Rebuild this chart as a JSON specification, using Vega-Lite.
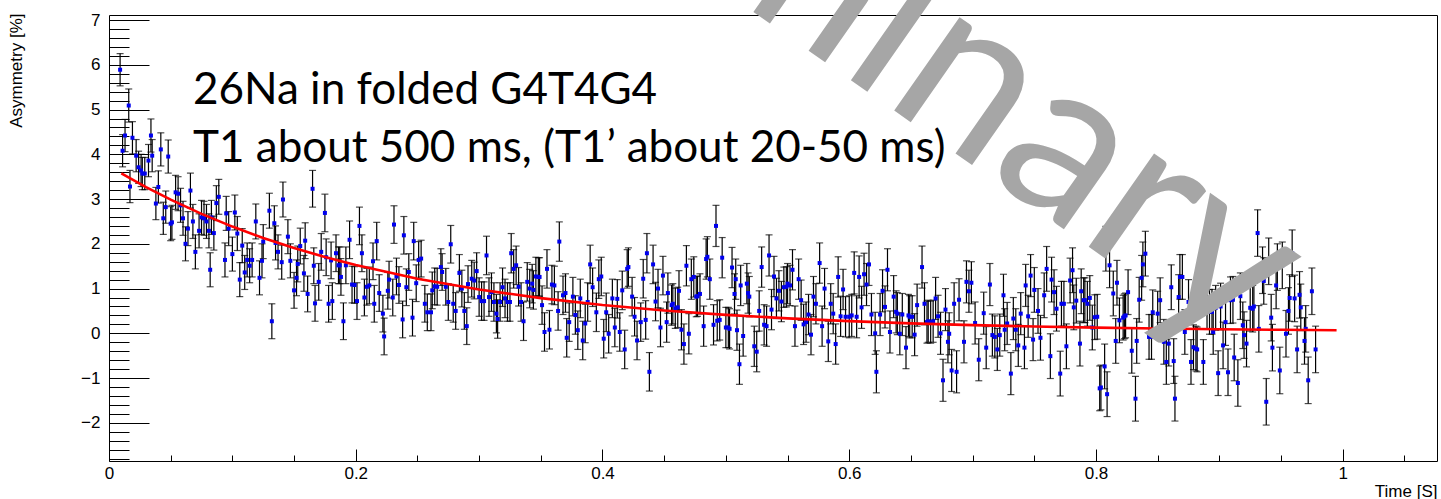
{
"$schema": "https://vega.github.io/schema/vega-lite/v6.json",
"width": 1328, "height": 446,
"autosize": {"type": "none"},
"padding": {"left": 109, "top": 15, "right": 4, "bottom": 38},
"background": "white",
"config": {"view": {"stroke": "#000", "strokeWidth": 1}},
"datasets": {
"fit": [
{"x":0.01,"y":3.575},{"x":0.03,"y":3.267},{"x":0.05,"y":2.986},{"x":0.075,"y":2.668},{"x":0.1,"y":2.385},{"x":0.125,"y":2.132},{"x":0.15,"y":1.906},{"x":0.175,"y":1.704},{"x":0.2,"y":1.525},{"x":0.25,"y":1.221},{"x":0.3,"y":0.979},{"x":0.35,"y":0.786},{"x":0.4,"y":0.632},{"x":0.45,"y":0.51},{"x":0.5,"y":0.412},{"x":0.55,"y":0.335},{"x":0.6,"y":0.273},{"x":0.65,"y":0.223},{"x":0.7,"y":0.184},{"x":0.75,"y":0.153},{"x":0.8,"y":0.128},{"x":0.85,"y":0.108},{"x":0.9,"y":0.092},{"x":0.95,"y":0.079},{"x":0.995,"y":0.07}
],
"notes": [
{"label":"26Na in folded G4T4G4","kind":"line1"},
{"label":"T1 about 500 ms, (T1\u2019 about 20-50 ms)","kind":"line2"},
{"label":"Preliminary","kind":"mark"}
],
"pts": [
{"x":0.009,"y":5.89,"e":0.36},{"x":0.011,"y":4.08,"e":0.36},{"x":0.013,"y":4.42,"e":0.36},{"x":0.016,"y":5.09,"e":0.37},{"x":0.017,"y":3.28,"e":0.36},{"x":0.019,"y":4.37,"e":0.36},{"x":0.022,"y":3.97,"e":0.36},{"x":0.024,"y":3.71,"e":0.36},{"x":0.026,"y":3.64,"e":0.36},{"x":0.027,"y":3.57,"e":0.36},{"x":0.029,"y":3.57,"e":0.36},{"x":0.032,"y":3.86,"e":0.36},{"x":0.034,"y":4.42,"e":0.37},{"x":0.035,"y":3.97,"e":0.36},{"x":0.038,"y":2.9,"e":0.36},{"x":0.04,"y":3.27,"e":0.36},{"x":0.042,"y":4.11,"e":0.37},{"x":0.044,"y":2.57,"e":0.36},{"x":0.046,"y":2.82,"e":0.36},{"x":0.048,"y":3.95,"e":0.37},{"x":0.05,"y":2.45,"e":0.38},{"x":0.051,"y":2.48,"e":0.38},{"x":0.054,"y":3.15,"e":0.38},{"x":0.056,"y":3.12,"e":0.38},{"x":0.058,"y":2.86,"e":0.38},{"x":0.06,"y":2.57,"e":0.38},{"x":0.062,"y":2.0,"e":0.38},{"x":0.064,"y":2.34,"e":0.38},{"x":0.066,"y":3.19,"e":0.39},{"x":0.068,"y":2.5,"e":0.38},{"x":0.07,"y":1.82,"e":0.38},{"x":0.073,"y":2.29,"e":0.38},{"x":0.075,"y":2.59,"e":0.38},{"x":0.077,"y":2.57,"e":0.38},{"x":0.079,"y":2.5,"e":0.38},{"x":0.081,"y":2.29,"e":0.38},{"x":0.082,"y":1.42,"e":0.38},{"x":0.083,"y":2.59,"e":0.38},{"x":0.085,"y":2.24,"e":0.38},{"x":0.087,"y":2.91,"e":0.39},{"x":0.089,"y":3.05,"e":0.39},{"x":0.094,"y":1.64,"e":0.38},{"x":0.095,"y":2.68,"e":0.38},{"x":0.097,"y":2.34,"e":0.38},{"x":0.1,"y":1.77,"e":0.38},{"x":0.102,"y":2.7,"e":0.39},{"x":0.104,"y":2.23,"e":0.38},{"x":0.106,"y":1.2,"e":0.38},{"x":0.108,"y":1.96,"e":0.38},{"x":0.11,"y":1.36,"e":0.38},{"x":0.112,"y":1.64,"e":0.38},{"x":0.114,"y":1.51,"e":0.38},{"x":0.116,"y":1.64,"e":0.38},{"x":0.119,"y":2.5,"e":0.39},{"x":0.122,"y":1.24,"e":0.38},{"x":0.124,"y":1.62,"e":0.38},{"x":0.125,"y":2.05,"e":0.38},{"x":0.13,"y":2.74,"e":0.39},{"x":0.132,"y":0.27,"e":0.39},{"x":0.134,"y":2.46,"e":0.39},{"x":0.135,"y":2.02,"e":0.38},{"x":0.137,"y":1.82,"e":0.38},{"x":0.14,"y":1.59,"e":0.38},{"x":0.141,"y":2.99,"e":0.39},{"x":0.145,"y":2.16,"e":0.38},{"x":0.147,"y":1.62,"e":0.38},{"x":0.15,"y":0.96,"e":0.4},{"x":0.152,"y":1.24,"e":0.4},{"x":0.153,"y":1.55,"e":0.4},{"x":0.155,"y":1.95,"e":0.4},{"x":0.158,"y":1.34,"e":0.4},{"x":0.159,"y":2.07,"e":0.4},{"x":0.161,"y":0.88,"e":0.4},{"x":0.165,"y":3.23,"e":0.41},{"x":0.166,"y":1.51,"e":0.4},{"x":0.167,"y":0.67,"e":0.4},
{"x":0.17,"y":1.15,"e":0.41},{"x":0.172,"y":1.82,"e":0.41},{"x":0.175,"y":2.69,"e":0.42},{"x":0.176,"y":1.7,"e":0.41},{"x":0.178,"y":0.66,"e":0.41},{"x":0.18,"y":1.63,"e":0.41},{"x":0.181,"y":0.72,"e":0.41},{"x":0.184,"y":1.79,"e":0.41},{"x":0.186,"y":1.52,"e":0.41},{"x":0.187,"y":1.52,"e":0.41},{"x":0.188,"y":1.26,"e":0.41},{"x":0.19,"y":0.27,"e":0.41},{"x":0.192,"y":1.52,"e":0.41},{"x":0.195,"y":2.09,"e":0.42},{"x":0.197,"y":1.09,"e":0.41},{"x":0.199,"y":1.08,"e":0.41},{"x":0.201,"y":0.72,"e":0.41},{"x":0.203,"y":2.4,"e":0.42},{"x":0.205,"y":1.79,"e":0.41},{"x":0.207,"y":0.8,"e":0.41},{"x":0.209,"y":1.04,"e":0.41},{"x":0.211,"y":1.07,"e":0.41},{"x":0.214,"y":1.61,"e":0.41},{"x":0.215,"y":0.66,"e":0.41},{"x":0.217,"y":2.06,"e":0.42},{"x":0.219,"y":0.9,"e":0.41},{"x":0.222,"y":0.44,"e":0.41},{"x":0.223,"y":-0.07,"e":0.41},{"x":0.226,"y":0.95,"e":0.41},{"x":0.227,"y":1.2,"e":0.41},{"x":0.23,"y":0.8,"e":0.41},{"x":0.231,"y":2.43,"e":0.42},{"x":0.233,"y":1.27,"e":0.41},{"x":0.235,"y":1.08,"e":0.41},{"x":0.238,"y":0.31,"e":0.41},{"x":0.239,"y":2.19,"e":0.42},{"x":0.241,"y":1.03,"e":0.41},{"x":0.243,"y":1.37,"e":0.41},{"x":0.246,"y":0.35,"e":0.41},{"x":0.247,"y":2.06,"e":0.42},{"x":0.249,"y":1.12,"e":0.41},{"x":0.251,"y":1.64,"e":0.41},{"x":0.253,"y":1.67,"e":0.41},{"x":0.256,"y":0.66,"e":0.41},{"x":0.258,"y":0.47,"e":0.41},{"x":0.261,"y":0.47,"e":0.41},{"x":0.262,"y":0.96,"e":0.41},{"x":0.264,"y":1.05,"e":0.41},{"x":0.266,"y":1.04,"e":0.41},{"x":0.269,"y":1.48,"e":0.41},{"x":0.27,"y":1.37,"e":0.41},{"x":0.273,"y":1.04,"e":0.41},{"x":0.275,"y":0.7,"e":0.41},{"x":0.277,"y":1.99,"e":0.42},{"x":0.279,"y":0.66,"e":0.41},{"x":0.281,"y":0.5,"e":0.41},{"x":0.284,"y":1.35,"e":0.41},{"x":0.286,"y":1.0,"e":0.41},{"x":0.288,"y":0.5,"e":0.41},{"x":0.29,"y":0.16,"e":0.41},{"x":0.291,"y":1.1,"e":0.41},{"x":0.294,"y":1.22,"e":0.41},{"x":0.296,"y":1.18,"e":0.41},{"x":0.298,"y":1.39,"e":0.41},{"x":0.3,"y":0.81,"e":0.43},{"x":0.302,"y":0.72,"e":0.43},{"x":0.304,"y":0.72,"e":0.43},{"x":0.306,"y":1.74,"e":0.43},{"x":0.308,"y":0.81,"e":0.43},{"x":0.31,"y":0.92,"e":0.43},{"x":0.312,"y":0.7,"e":0.43},{"x":0.314,"y":0.44,"e":0.43},{"x":0.315,"y":0.32,"e":0.43},{"x":0.317,"y":0.7,"e":0.43},{"x":0.319,"y":1.03,"e":0.43},{"x":0.321,"y":0.78,"e":0.43},{"x":0.323,"y":0.7,"e":0.43},{"x":0.325,"y":0.7,"e":0.43},{"x":0.326,"y":1.79,"e":0.44},{"x":0.328,"y":1.44,"e":0.43},{"x":0.33,"y":1.52,"e":0.43},{"x":0.332,"y":1.04,"e":0.43},{"x":0.334,"y":0.7,"e":0.43},{"x":0.336,"y":0.27,"e":0.43},
{"x":0.339,"y":1.15,"e":0.43},{"x":0.341,"y":1.0,"e":0.43},{"x":0.343,"y":1.11,"e":0.43},{"x":0.344,"y":0.97,"e":0.43},{"x":0.346,"y":1.27,"e":0.43},{"x":0.348,"y":1.26,"e":0.43},{"x":0.349,"y":1.26,"e":0.43},{"x":0.351,"y":0.63,"e":0.43},{"x":0.353,"y":0.03,"e":0.43},{"x":0.355,"y":1.44,"e":0.43},{"x":0.357,"y":0.08,"e":0.43},{"x":0.359,"y":1.09,"e":0.43},{"x":0.361,"y":1.07,"e":0.43},{"x":0.364,"y":0.5,"e":0.43},{"x":0.365,"y":2.05,"e":0.44},{"x":0.368,"y":0.85,"e":0.43},{"x":0.37,"y":0.9,"e":0.43},{"x":0.371,"y":-0.1,"e":0.43},{"x":0.373,"y":0.25,"e":0.43},{"x":0.376,"y":0.82,"e":0.43},{"x":0.378,"y":0.41,"e":0.43},{"x":0.38,"y":0.07,"e":0.43},{"x":0.382,"y":0.78,"e":0.43},{"x":0.384,"y":-0.16,"e":0.43},{"x":0.386,"y":0.22,"e":0.43},{"x":0.388,"y":0.7,"e":0.43},{"x":0.39,"y":1.54,"e":0.43},{"x":0.392,"y":1.03,"e":0.43},{"x":0.395,"y":0.47,"e":0.43},{"x":0.397,"y":1.21,"e":0.43},{"x":0.399,"y":1.27,"e":0.43},{"x":0.401,"y":-0.12,"e":0.43},{"x":0.403,"y":0.47,"e":0.43},{"x":0.405,"y":-0.01,"e":0.43},{"x":0.408,"y":0.78,"e":0.43},{"x":0.41,"y":0.13,"e":0.43},{"x":0.412,"y":0.77,"e":0.43},{"x":0.414,"y":0.03,"e":0.43},{"x":0.416,"y":0.96,"e":0.43},{"x":0.418,"y":-0.36,"e":0.43},{"x":0.42,"y":1.44,"e":0.43},{"x":0.421,"y":1.48,"e":0.43},{"x":0.424,"y":0.82,"e":0.43},{"x":0.426,"y":0.37,"e":0.43},{"x":0.428,"y":-0.16,"e":0.43},{"x":0.431,"y":0.25,"e":0.43},{"x":0.433,"y":1.22,"e":0.43},{"x":0.435,"y":0.3,"e":0.43},{"x":0.436,"y":1.79,"e":0.44},{"x":0.438,"y":-0.86,"e":0.43},{"x":0.441,"y":1.54,"e":0.43},{"x":0.443,"y":0.71,"e":0.43},{"x":0.445,"y":1.0,"e":0.43},{"x":0.447,"y":0.13,"e":0.43},{"x":0.449,"y":1.29,"e":0.43},{"x":0.452,"y":0.25,"e":0.45},{"x":0.453,"y":0.9,"e":0.45},{"x":0.456,"y":0.63,"e":0.45},{"x":0.457,"y":0.66,"e":0.45},{"x":0.459,"y":0.56,"e":0.45},{"x":0.461,"y":0.58,"e":0.45},{"x":0.462,"y":0.95,"e":0.45},{"x":0.464,"y":0.08,"e":0.45},{"x":0.466,"y":-0.24,"e":0.45},{"x":0.468,"y":1.51,"e":0.45},{"x":0.47,"y":-0.01,"e":0.45},{"x":0.472,"y":1.21,"e":0.45},{"x":0.474,"y":1.26,"e":0.45},{"x":0.476,"y":0.82,"e":0.45},{"x":0.477,"y":0.83,"e":0.45},{"x":0.479,"y":0.88,"e":0.45},{"x":0.482,"y":0.16,"e":0.45},{"x":0.484,"y":1.66,"e":0.45},{"x":0.485,"y":1.71,"e":0.45},{"x":0.487,"y":1.21,"e":0.45},{"x":0.49,"y":0.19,"e":0.45},{"x":0.492,"y":2.4,"e":0.46},{"x":0.493,"y":0.28,"e":0.45},{"x":0.495,"y":0.3,"e":0.45},{"x":0.497,"y":1.69,"e":0.45},{"x":0.5,"y":0.13,"e":0.45},{"x":0.502,"y":0.13,"e":0.45},{"x":0.503,"y":0.1,"e":0.45},{"x":0.505,"y":1.47,"e":0.45},{"x":0.507,"y":0.88,"e":0.45},{"x":0.508,"y":1.21,"e":0.45},
{"x":0.509,"y":0.07,"e":0.45},{"x":0.511,"y":-0.69,"e":0.45},{"x":0.512,"y":1.07,"e":0.45},{"x":0.514,"y":-0.06,"e":0.45},{"x":0.517,"y":1.11,"e":0.45},{"x":0.518,"y":0.9,"e":0.45},{"x":0.519,"y":0.82,"e":0.45},{"x":0.523,"y":-0.29,"e":0.45},{"x":0.525,"y":-0.41,"e":0.45},{"x":0.527,"y":0.5,"e":0.45},{"x":0.529,"y":1.48,"e":0.45},{"x":0.531,"y":0.19,"e":0.45},{"x":0.533,"y":0.16,"e":0.45},{"x":0.535,"y":1.74,"e":0.46},{"x":0.537,"y":0.53,"e":0.45},{"x":0.539,"y":1.27,"e":0.45},{"x":0.541,"y":0.78,"e":0.45},{"x":0.543,"y":0.95,"e":0.45},{"x":0.545,"y":0.71,"e":0.45},{"x":0.547,"y":1.03,"e":0.45},{"x":0.549,"y":1.04,"e":0.45},{"x":0.55,"y":1.11,"e":0.45},{"x":0.552,"y":1.07,"e":0.45},{"x":0.554,"y":1.42,"e":0.45},{"x":0.556,"y":0.16,"e":0.45},{"x":0.559,"y":1.21,"e":0.45},{"x":0.561,"y":0.74,"e":0.45},{"x":0.563,"y":0.2,"e":0.45},{"x":0.565,"y":0.25,"e":0.45},{"x":0.567,"y":0.42,"e":0.45},{"x":0.569,"y":-0.03,"e":0.45},{"x":0.571,"y":0.82,"e":0.45},{"x":0.573,"y":0.66,"e":0.45},{"x":0.576,"y":1.57,"e":0.45},{"x":0.578,"y":0.16,"e":0.45},{"x":0.58,"y":1.0,"e":0.45},{"x":0.583,"y":-0.18,"e":0.45},{"x":0.585,"y":0.66,"e":0.45},{"x":0.587,"y":0.44,"e":0.45},{"x":0.589,"y":-0.24,"e":0.45},{"x":0.591,"y":1.26,"e":0.45},{"x":0.593,"y":0.38,"e":0.45},{"x":0.595,"y":0.98,"e":0.45},{"x":0.597,"y":0.37,"e":0.45},{"x":0.6,"y":0.37,"e":0.47},{"x":0.602,"y":0.4,"e":0.47},{"x":0.604,"y":1.35,"e":0.47},{"x":0.606,"y":0.37,"e":0.47},{"x":0.608,"y":1.26,"e":0.47},{"x":0.61,"y":0.58,"e":0.47},{"x":0.612,"y":1.32,"e":0.47},{"x":0.614,"y":1.09,"e":0.47},{"x":0.616,"y":1.54,"e":0.47},{"x":0.618,"y":0.42,"e":0.47},{"x":0.621,"y":0.0,"e":0.47},{"x":0.622,"y":-0.86,"e":0.47},{"x":0.625,"y":0.42,"e":0.47},{"x":0.627,"y":0.95,"e":0.47},{"x":0.629,"y":0.59,"e":0.47},{"x":0.631,"y":1.42,"e":0.47},{"x":0.633,"y":0.03,"e":0.47},{"x":0.636,"y":0.82,"e":0.47},{"x":0.638,"y":0.48,"e":0.47},{"x":0.639,"y":0.44,"e":0.47},{"x":0.641,"y":-0.01,"e":0.47},{"x":0.643,"y":0.42,"e":0.47},{"x":0.646,"y":-0.32,"e":0.47},{"x":0.648,"y":0.4,"e":0.47},{"x":0.649,"y":0.37,"e":0.47},{"x":0.651,"y":0.37,"e":0.47},{"x":0.653,"y":-0.03,"e":0.47},{"x":0.655,"y":0.63,"e":0.47},{"x":0.659,"y":1.48,"e":0.47},{"x":0.661,"y":0.66,"e":0.47},{"x":0.663,"y":0.25,"e":0.47},{"x":0.664,"y":0.27,"e":0.47},{"x":0.666,"y":0.25,"e":0.47},{"x":0.668,"y":0.27,"e":0.47},{"x":0.67,"y":0.78,"e":0.47},{"x":0.672,"y":0.38,"e":0.47},{"x":0.674,"y":0.0,"e":0.47},{"x":0.676,"y":-1.05,"e":0.47},{"x":0.678,"y":0.53,"e":0.47},
{"x":0.68,"y":-0.19,"e":0.47},{"x":0.681,"y":-0.01,"e":0.47},{"x":0.683,"y":-0.83,"e":0.47},{"x":0.685,"y":0.66,"e":0.47},{"x":0.687,"y":-0.86,"e":0.47},{"x":0.689,"y":0.75,"e":0.47},{"x":0.693,"y":-0.19,"e":0.47},{"x":0.695,"y":1.15,"e":0.47},{"x":0.697,"y":0.94,"e":0.47},{"x":0.699,"y":1.13,"e":0.47},{"x":0.702,"y":0.23,"e":0.47},{"x":0.705,"y":-0.59,"e":0.47},{"x":0.709,"y":0.45,"e":0.47},{"x":0.711,"y":-0.32,"e":0.47},{"x":0.714,"y":1.09,"e":0.47},{"x":0.716,"y":-0.04,"e":0.47},{"x":0.718,"y":-0.08,"e":0.47},{"x":0.72,"y":-0.36,"e":0.47},{"x":0.722,"y":-0.04,"e":0.47},{"x":0.725,"y":0.85,"e":0.47},{"x":0.726,"y":0.08,"e":0.47},{"x":0.728,"y":0.22,"e":0.47},{"x":0.731,"y":-0.9,"e":0.47},{"x":0.733,"y":0.33,"e":0.47},{"x":0.735,"y":0.08,"e":0.47},{"x":0.737,"y":-0.27,"e":0.47},{"x":0.739,"y":0.44,"e":0.47},{"x":0.742,"y":-0.32,"e":0.47},{"x":0.743,"y":1.07,"e":0.47},{"x":0.745,"y":0.38,"e":0.47},{"x":0.747,"y":1.29,"e":0.47},{"x":0.749,"y":-0.14,"e":0.47},{"x":0.75,"y":0.97,"e":0.5},{"x":0.753,"y":0.5,"e":0.5},{"x":0.755,"y":-0.1,"e":0.5},{"x":0.758,"y":0.85,"e":0.5},{"x":0.76,"y":1.44,"e":0.5},{"x":0.763,"y":-0.51,"e":0.5},{"x":0.764,"y":1.2,"e":0.5},{"x":0.766,"y":0.92,"e":0.5},{"x":0.768,"y":0.55,"e":0.5},{"x":0.771,"y":-0.9,"e":0.5},{"x":0.772,"y":0.66,"e":0.5},{"x":0.774,"y":0.66,"e":0.5},{"x":0.776,"y":-0.29,"e":0.5},{"x":0.779,"y":1.18,"e":0.5},{"x":0.781,"y":1.41,"e":0.5},{"x":0.782,"y":0.58,"e":0.5},{"x":0.784,"y":0.73,"e":0.5},{"x":0.787,"y":-0.23,"e":0.5},{"x":0.788,"y":0.94,"e":0.5},{"x":0.79,"y":0.74,"e":0.5},{"x":0.791,"y":0.74,"e":0.5},{"x":0.793,"y":0.66,"e":0.5},{"x":0.795,"y":0.79,"e":0.5},{"x":0.797,"y":0.13,"e":0.5},{"x":0.799,"y":0.36,"e":0.5},{"x":0.801,"y":0.37,"e":0.5},{"x":0.803,"y":-1.23,"e":0.5},{"x":0.804,"y":-1.21,"e":0.5},{"x":0.807,"y":-0.74,"e":0.5},{"x":0.808,"y":1.89,"e":0.5},{"x":0.809,"y":-1.36,"e":0.5},{"x":0.811,"y":1.52,"e":0.5},{"x":0.814,"y":0.89,"e":0.5},{"x":0.816,"y":-0.17,"e":0.5},{"x":0.817,"y":1.13,"e":0.5},{"x":0.819,"y":0.29,"e":0.5},{"x":0.822,"y":0.35,"e":0.5},{"x":0.823,"y":0.38,"e":0.5},{"x":0.824,"y":0.4,"e":0.5},{"x":0.826,"y":0.92,"e":0.5},{"x":0.829,"y":-0.39,"e":0.5},{"x":0.832,"y":-1.46,"e":0.5},{"x":0.833,"y":-0.17,"e":0.5},{"x":0.835,"y":0.75,"e":0.5},{"x":0.837,"y":1.24,"e":0.5},{"x":0.838,"y":1.54,"e":0.5},{"x":0.84,"y":1.78,"e":0.5},{"x":0.843,"y":-0.08,"e":0.5},{"x":0.845,"y":-0.08,"e":0.5},{"x":0.846,"y":0.47,"e":0.5},
{"x":0.85,"y":0.44,"e":0.5},{"x":0.852,"y":0.74,"e":0.5},{"x":0.855,"y":-0.19,"e":0.5},{"x":0.857,"y":-0.64,"e":0.5},{"x":0.859,"y":-0.23,"e":0.5},{"x":0.861,"y":1.03,"e":0.5},{"x":0.863,"y":-0.62,"e":0.5},{"x":0.864,"y":-1.46,"e":0.5},{"x":0.867,"y":0.81,"e":0.5},{"x":0.868,"y":1.26,"e":0.5},{"x":0.87,"y":1.26,"e":0.5},{"x":0.872,"y":0.03,"e":0.5},{"x":0.875,"y":0.7,"e":0.5},{"x":0.877,"y":-0.64,"e":0.5},{"x":0.879,"y":-0.31,"e":0.5},{"x":0.881,"y":-0.34,"e":0.5},{"x":0.882,"y":-0.36,"e":0.5},{"x":0.885,"y":1.18,"e":0.5},{"x":0.887,"y":-0.64,"e":0.5},{"x":0.89,"y":0.6,"e":0.5},{"x":0.892,"y":0.48,"e":0.5},{"x":0.894,"y":0.48,"e":0.5},{"x":0.895,"y":0.03,"e":0.5},{"x":0.897,"y":0.57,"e":0.5},{"x":0.899,"y":-0.89,"e":0.5},{"x":0.901,"y":0.6,"e":0.52},{"x":0.903,"y":-0.27,"e":0.52},{"x":0.905,"y":0.25,"e":0.52},{"x":0.907,"y":-0.87,"e":0.52},{"x":0.909,"y":0.74,"e":0.52},{"x":0.911,"y":0.75,"e":0.52},{"x":0.912,"y":-0.54,"e":0.52},{"x":0.915,"y":-1.11,"e":0.52},{"x":0.917,"y":0.83,"e":0.52},{"x":0.919,"y":0.18,"e":0.52},{"x":0.92,"y":-0.04,"e":0.52},{"x":0.922,"y":-0.23,"e":0.52},{"x":0.925,"y":0.57,"e":0.52},{"x":0.927,"y":0.55,"e":0.52},{"x":0.928,"y":0.6,"e":0.52},{"x":0.931,"y":2.24,"e":0.52},{"x":0.932,"y":0.1,"e":0.52},{"x":0.935,"y":1.41,"e":0.52},{"x":0.936,"y":1.17,"e":0.52},{"x":0.938,"y":-1.53,"e":0.52},{"x":0.94,"y":1.61,"e":0.52},{"x":0.942,"y":0.35,"e":0.52},{"x":0.943,"y":-0.32,"e":0.52},{"x":0.946,"y":1.07,"e":0.52},{"x":0.947,"y":1.48,"e":0.52},{"x":0.949,"y":-0.83,"e":0.52},{"x":0.951,"y":1.52,"e":0.52},{"x":0.954,"y":-0.01,"e":0.52},{"x":0.956,"y":0.5,"e":0.52},{"x":0.957,"y":0.79,"e":0.52},{"x":0.959,"y":1.79,"e":0.52},{"x":0.961,"y":0.78,"e":0.52},{"x":0.963,"y":-0.36,"e":0.52},{"x":0.965,"y":0.86,"e":0.52},{"x":0.966,"y":0.58,"e":0.52},{"x":0.969,"y":-0.17,"e":0.52},{"x":0.97,"y":0.1,"e":0.52},{"x":0.972,"y":-1.05,"e":0.52},{"x":0.975,"y":0.94,"e":0.52},{"x":0.978,"y":-0.36,"e":0.52}
]
},
"layer": [
{"data": {"name": "pts"},
 "mark": {"type": "errorbar", "color": "#000", "ticks": {"size": 7, "thickness": 1.2, "color": "#000"}, "rule": {"strokeWidth": 1.2, "color": "#000"}},
 "encoding": {
  "x": {"field": "x", "type": "quantitative",
   "scale": {"domain": [0, 1.0764], "nice": false, "zero": false},
   "axis": {"values": [0,0.05,0.1,0.15,0.2,0.25,0.3,0.35,0.4,0.45,0.5,0.55,0.6,0.65,0.7,0.75,0.8,0.85,0.9,0.95,1,1.05], "tickSize": {"condition": {"test": "abs(datum.value*5 - round(datum.value*5)) < 0.001", "value": -12}, "value": -6}, "tickColor": "#000", "tickWidth": 1, "labelExpr": "abs(datum.value*5 - round(datum.value*5)) < 0.001 ? format(datum.value, '~g') : ''", "labelPadding": 16, "labelFont": "Liberation Sans", "labelFontSize": 17, "labelColor": "#000", "labelFlush": false, "labelOverlap": false, "labelBound": false, "grid": false, "domain": false, "title": "Time [S]", "titleFont": "Liberation Sans", "titleFontSize": 17, "titleFontWeight": "normal", "titleColor": "#000", "titleAlign": "right", "titleBaseline": "top", "titleX": 1328, "titleY": 22, "titleAngle": 0}},
  "y": {"field": "y", "type": "quantitative",
   "scale": {"domain": [-2.853, 7.113], "nice": false, "zero": false},
   "axis": {"values": [-2.8,-2.6,-2.4,-2.2,-2,-1.8,-1.6,-1.4,-1.2,-1,-0.8,-0.6,-0.4,-0.2,0,0.2,0.4,0.6,0.8,1,1.2,1.4,1.6,1.8,2,2.2,2.4,2.6,2.8,3,3.2,3.4,3.6,3.8,4,4.2,4.4,4.6,4.8,5,5.2,5.4,5.6,5.8,6,6.2,6.4,6.6,6.8,7], "tickSize": {"condition": {"test": "datum.value % 1 === 0", "value": -40}, "value": -20}, "tickColor": "#000", "tickWidth": 1, "labelExpr": "datum.value % 1 === 0 ? (datum.value < 0 ? '\u2212' + (-datum.value) : '' + datum.value) : ''", "labelPadding": 49, "labelFont": "Liberation Sans", "labelFontSize": 17, "labelColor": "#000", "labelFlush": false, "labelOverlap": false, "labelBound": false, "grid": false, "domain": false, "title": "Asymmetry [%]", "titleFont": "Liberation Sans", "titleFontSize": 17, "titleFontWeight": "normal", "titleColor": "#000", "titleAngle": -90, "titleAlign": "right", "titleBaseline": "top", "titleX": -101, "titleY": -2}},
  "yError": {"field": "e"}
 }},
{"data": {"name": "pts"},
 "mark": {"type": "square", "size": 16, "color": "#0000ee", "opacity": 1, "filled": true},
 "encoding": {
  "x": {"field": "x", "type": "quantitative",
   "scale": {"domain": [0, 1.0764], "nice": false, "zero": false},
   "axis": {"values": [0,0.05,0.1,0.15,0.2,0.25,0.3,0.35,0.4,0.45,0.5,0.55,0.6,0.65,0.7,0.75,0.8,0.85,0.9,0.95,1,1.05], "tickSize": {"condition": {"test": "abs(datum.value*5 - round(datum.value*5)) < 0.001", "value": -12}, "value": -6}, "tickColor": "#000", "tickWidth": 1, "labelExpr": "abs(datum.value*5 - round(datum.value*5)) < 0.001 ? format(datum.value, '~g') : ''", "labelPadding": 16, "labelFont": "Liberation Sans", "labelFontSize": 17, "labelColor": "#000", "labelFlush": false, "labelOverlap": false, "labelBound": false, "grid": false, "domain": false, "title": "Time [S]", "titleFont": "Liberation Sans", "titleFontSize": 17, "titleFontWeight": "normal", "titleColor": "#000", "titleAlign": "right", "titleBaseline": "top", "titleX": 1328, "titleY": 22, "titleAngle": 0}},
  "y": {"field": "y", "type": "quantitative",
   "scale": {"domain": [-2.853, 7.113], "nice": false, "zero": false},
   "axis": {"values": [-2.8,-2.6,-2.4,-2.2,-2,-1.8,-1.6,-1.4,-1.2,-1,-0.8,-0.6,-0.4,-0.2,0,0.2,0.4,0.6,0.8,1,1.2,1.4,1.6,1.8,2,2.2,2.4,2.6,2.8,3,3.2,3.4,3.6,3.8,4,4.2,4.4,4.6,4.8,5,5.2,5.4,5.6,5.8,6,6.2,6.4,6.6,6.8,7], "tickSize": {"condition": {"test": "datum.value % 1 === 0", "value": -40}, "value": -20}, "tickColor": "#000", "tickWidth": 1, "labelExpr": "datum.value % 1 === 0 ? (datum.value < 0 ? '\u2212' + (-datum.value) : '' + datum.value) : ''", "labelPadding": 49, "labelFont": "Liberation Sans", "labelFontSize": 17, "labelColor": "#000", "labelFlush": false, "labelOverlap": false, "labelBound": false, "grid": false, "domain": false, "title": "Asymmetry [%]", "titleFont": "Liberation Sans", "titleFontSize": 17, "titleFontWeight": "normal", "titleColor": "#000", "titleAngle": -90, "titleAlign": "right", "titleBaseline": "top", "titleX": -101, "titleY": -2}}
 }},
{"data": {"name": "fit"},
 "mark": {"type": "line", "color": "#ff0000", "strokeWidth": 2.6},
 "encoding": {
  "x": {"field": "x", "type": "quantitative",
   "scale": {"domain": [0, 1.0764], "nice": false, "zero": false},
   "axis": {"values": [0,0.05,0.1,0.15,0.2,0.25,0.3,0.35,0.4,0.45,0.5,0.55,0.6,0.65,0.7,0.75,0.8,0.85,0.9,0.95,1,1.05], "tickSize": {"condition": {"test": "abs(datum.value*5 - round(datum.value*5)) < 0.001", "value": -12}, "value": -6}, "tickColor": "#000", "tickWidth": 1, "labelExpr": "abs(datum.value*5 - round(datum.value*5)) < 0.001 ? format(datum.value, '~g') : ''", "labelPadding": 16, "labelFont": "Liberation Sans", "labelFontSize": 17, "labelColor": "#000", "labelFlush": false, "labelOverlap": false, "labelBound": false, "grid": false, "domain": false, "title": "Time [S]", "titleFont": "Liberation Sans", "titleFontSize": 17, "titleFontWeight": "normal", "titleColor": "#000", "titleAlign": "right", "titleBaseline": "top", "titleX": 1328, "titleY": 22, "titleAngle": 0}},
  "y": {"field": "y", "type": "quantitative",
   "scale": {"domain": [-2.853, 7.113], "nice": false, "zero": false},
   "axis": {"values": [-2.8,-2.6,-2.4,-2.2,-2,-1.8,-1.6,-1.4,-1.2,-1,-0.8,-0.6,-0.4,-0.2,0,0.2,0.4,0.6,0.8,1,1.2,1.4,1.6,1.8,2,2.2,2.4,2.6,2.8,3,3.2,3.4,3.6,3.8,4,4.2,4.4,4.6,4.8,5,5.2,5.4,5.6,5.8,6,6.2,6.4,6.6,6.8,7], "tickSize": {"condition": {"test": "datum.value % 1 === 0", "value": -40}, "value": -20}, "tickColor": "#000", "tickWidth": 1, "labelExpr": "datum.value % 1 === 0 ? (datum.value < 0 ? '\u2212' + (-datum.value) : '' + datum.value) : ''", "labelPadding": 49, "labelFont": "Liberation Sans", "labelFontSize": 17, "labelColor": "#000", "labelFlush": false, "labelOverlap": false, "labelBound": false, "grid": false, "domain": false, "title": "Asymmetry [%]", "titleFont": "Liberation Sans", "titleFontSize": 17, "titleFontWeight": "normal", "titleColor": "#000", "titleAngle": -90, "titleAlign": "right", "titleBaseline": "top", "titleX": -101, "titleY": -2}}
 }},
{"data": {"name": "notes"},
 "transform": [{"filter": "datum.kind === 'line1'"}],
 "mark": {"type": "text", "font": "Lato", "fontSize": 44, "color": "#000", "align": "left", "baseline": "alphabetic"},
 "encoding": {
  "text": {"field": "label"},
  "x": {"datum": 0.0681, "type": "quantitative",
   "scale": {"domain": [0, 1.0764], "nice": false, "zero": false},
   "axis": {"values": [0,0.05,0.1,0.15,0.2,0.25,0.3,0.35,0.4,0.45,0.5,0.55,0.6,0.65,0.7,0.75,0.8,0.85,0.9,0.95,1,1.05], "tickSize": {"condition": {"test": "abs(datum.value*5 - round(datum.value*5)) < 0.001", "value": -12}, "value": -6}, "tickColor": "#000", "tickWidth": 1, "labelExpr": "abs(datum.value*5 - round(datum.value*5)) < 0.001 ? format(datum.value, '~g') : ''", "labelPadding": 16, "labelFont": "Liberation Sans", "labelFontSize": 17, "labelColor": "#000", "labelFlush": false, "labelOverlap": false, "labelBound": false, "grid": false, "domain": false, "title": "Time [S]", "titleFont": "Liberation Sans", "titleFontSize": 17, "titleFontWeight": "normal", "titleColor": "#000", "titleAlign": "right", "titleBaseline": "top", "titleX": 1328, "titleY": 22, "titleAngle": 0}},
  "y": {"datum": 5.127, "type": "quantitative",
   "scale": {"domain": [-2.853, 7.113], "nice": false, "zero": false},
   "axis": {"values": [-2.8,-2.6,-2.4,-2.2,-2,-1.8,-1.6,-1.4,-1.2,-1,-0.8,-0.6,-0.4,-0.2,0,0.2,0.4,0.6,0.8,1,1.2,1.4,1.6,1.8,2,2.2,2.4,2.6,2.8,3,3.2,3.4,3.6,3.8,4,4.2,4.4,4.6,4.8,5,5.2,5.4,5.6,5.8,6,6.2,6.4,6.6,6.8,7], "tickSize": {"condition": {"test": "datum.value % 1 === 0", "value": -40}, "value": -20}, "tickColor": "#000", "tickWidth": 1, "labelExpr": "datum.value % 1 === 0 ? (datum.value < 0 ? '\u2212' + (-datum.value) : '' + datum.value) : ''", "labelPadding": 49, "labelFont": "Liberation Sans", "labelFontSize": 17, "labelColor": "#000", "labelFlush": false, "labelOverlap": false, "labelBound": false, "grid": false, "domain": false, "title": "Asymmetry [%]", "titleFont": "Liberation Sans", "titleFontSize": 17, "titleFontWeight": "normal", "titleColor": "#000", "titleAngle": -90, "titleAlign": "right", "titleBaseline": "top", "titleX": -101, "titleY": -2}}
 }},
{"data": {"name": "notes"},
 "transform": [{"filter": "datum.kind === 'line2'"}],
 "mark": {"type": "text", "font": "Lato", "fontSize": 44, "color": "#000", "align": "left", "baseline": "alphabetic"},
 "encoding": {
  "text": {"field": "label"},
  "x": {"datum": 0.0681, "type": "quantitative",
   "scale": {"domain": [0, 1.0764], "nice": false, "zero": false},
   "axis": {"values": [0,0.05,0.1,0.15,0.2,0.25,0.3,0.35,0.4,0.45,0.5,0.55,0.6,0.65,0.7,0.75,0.8,0.85,0.9,0.95,1,1.05], "tickSize": {"condition": {"test": "abs(datum.value*5 - round(datum.value*5)) < 0.001", "value": -12}, "value": -6}, "tickColor": "#000", "tickWidth": 1, "labelExpr": "abs(datum.value*5 - round(datum.value*5)) < 0.001 ? format(datum.value, '~g') : ''", "labelPadding": 16, "labelFont": "Liberation Sans", "labelFontSize": 17, "labelColor": "#000", "labelFlush": false, "labelOverlap": false, "labelBound": false, "grid": false, "domain": false, "title": "Time [S]", "titleFont": "Liberation Sans", "titleFontSize": 17, "titleFontWeight": "normal", "titleColor": "#000", "titleAlign": "right", "titleBaseline": "top", "titleX": 1328, "titleY": 22, "titleAngle": 0}},
  "y": {"datum": 3.824, "type": "quantitative",
   "scale": {"domain": [-2.853, 7.113], "nice": false, "zero": false},
   "axis": {"values": [-2.8,-2.6,-2.4,-2.2,-2,-1.8,-1.6,-1.4,-1.2,-1,-0.8,-0.6,-0.4,-0.2,0,0.2,0.4,0.6,0.8,1,1.2,1.4,1.6,1.8,2,2.2,2.4,2.6,2.8,3,3.2,3.4,3.6,3.8,4,4.2,4.4,4.6,4.8,5,5.2,5.4,5.6,5.8,6,6.2,6.4,6.6,6.8,7], "tickSize": {"condition": {"test": "datum.value % 1 === 0", "value": -40}, "value": -20}, "tickColor": "#000", "tickWidth": 1, "labelExpr": "datum.value % 1 === 0 ? (datum.value < 0 ? '\u2212' + (-datum.value) : '' + datum.value) : ''", "labelPadding": 49, "labelFont": "Liberation Sans", "labelFontSize": 17, "labelColor": "#000", "labelFlush": false, "labelOverlap": false, "labelBound": false, "grid": false, "domain": false, "title": "Asymmetry [%]", "titleFont": "Liberation Sans", "titleFontSize": 17, "titleFontWeight": "normal", "titleColor": "#000", "titleAngle": -90, "titleAlign": "right", "titleBaseline": "top", "titleX": -101, "titleY": -2}}
 }},
{"data": {"name": "notes"},
 "transform": [{"filter": "datum.kind === 'mark'"}],
 "mark": {"type": "text", "font": "Lato", "fontSize": 225, "color": "#a6a6a6", "align": "right", "baseline": "alphabetic", "angle": 35},
 "encoding": {
  "text": {"field": "label"},
  "x": {"datum": 0.915, "type": "quantitative",
   "scale": {"domain": [0, 1.0764], "nice": false, "zero": false},
   "axis": {"values": [0,0.05,0.1,0.15,0.2,0.25,0.3,0.35,0.4,0.45,0.5,0.55,0.6,0.65,0.7,0.75,0.8,0.85,0.9,0.95,1,1.05], "tickSize": {"condition": {"test": "abs(datum.value*5 - round(datum.value*5)) < 0.001", "value": -12}, "value": -6}, "tickColor": "#000", "tickWidth": 1, "labelExpr": "abs(datum.value*5 - round(datum.value*5)) < 0.001 ? format(datum.value, '~g') : ''", "labelPadding": 16, "labelFont": "Liberation Sans", "labelFontSize": 17, "labelColor": "#000", "labelFlush": false, "labelOverlap": false, "labelBound": false, "grid": false, "domain": false, "title": "Time [S]", "titleFont": "Liberation Sans", "titleFontSize": 17, "titleFontWeight": "normal", "titleColor": "#000", "titleAlign": "right", "titleBaseline": "top", "titleX": 1328, "titleY": 22, "titleAngle": 0}},
  "y": {"datum": -0.4, "type": "quantitative",
   "scale": {"domain": [-2.853, 7.113], "nice": false, "zero": false},
   "axis": {"values": [-2.8,-2.6,-2.4,-2.2,-2,-1.8,-1.6,-1.4,-1.2,-1,-0.8,-0.6,-0.4,-0.2,0,0.2,0.4,0.6,0.8,1,1.2,1.4,1.6,1.8,2,2.2,2.4,2.6,2.8,3,3.2,3.4,3.6,3.8,4,4.2,4.4,4.6,4.8,5,5.2,5.4,5.6,5.8,6,6.2,6.4,6.6,6.8,7], "tickSize": {"condition": {"test": "datum.value % 1 === 0", "value": -40}, "value": -20}, "tickColor": "#000", "tickWidth": 1, "labelExpr": "datum.value % 1 === 0 ? (datum.value < 0 ? '\u2212' + (-datum.value) : '' + datum.value) : ''", "labelPadding": 49, "labelFont": "Liberation Sans", "labelFontSize": 17, "labelColor": "#000", "labelFlush": false, "labelOverlap": false, "labelBound": false, "grid": false, "domain": false, "title": "Asymmetry [%]", "titleFont": "Liberation Sans", "titleFontSize": 17, "titleFontWeight": "normal", "titleColor": "#000", "titleAngle": -90, "titleAlign": "right", "titleBaseline": "top", "titleX": -101, "titleY": -2}}
 }}
]
}
